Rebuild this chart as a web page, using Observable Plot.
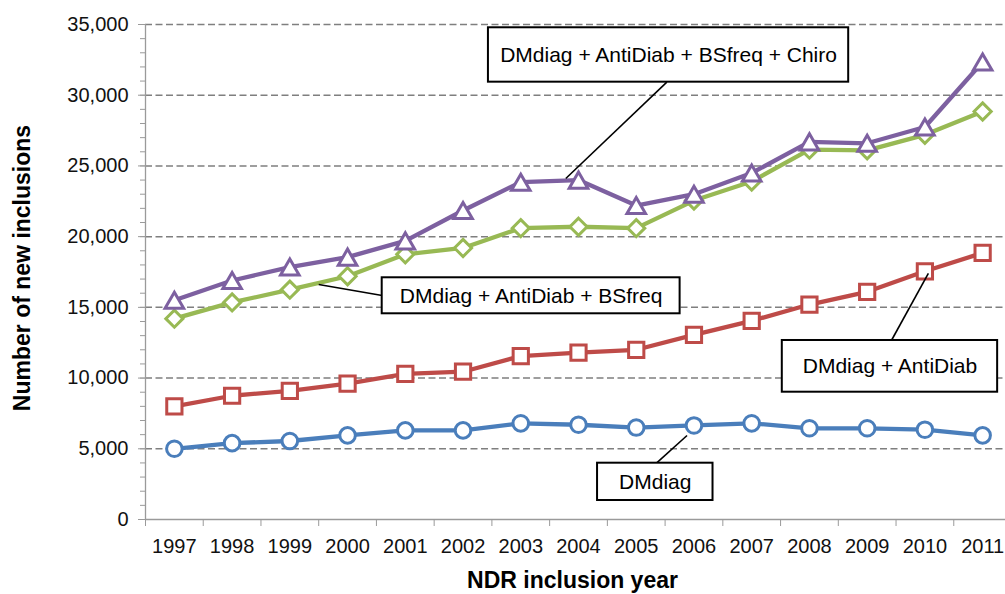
<!DOCTYPE html>
<html>
<head>
<meta charset="utf-8">
<script src="https://cdn.jsdelivr.net/npm/d3@7"></script>
<script src="https://cdn.jsdelivr.net/npm/@observablehq/plot@0.6"></script>
<style>
  html, body { margin: 0; padding: 0; background: #ffffff; }
  #chart { width: 1005px; height: 594px; overflow: hidden; }
</style>
</head>
<body>
<div id="chart"></div>
<script>
// ---- data ----
const years = [1997, 1998, 1999, 2000, 2001, 2002, 2003, 2004, 2005, 2006, 2007, 2008, 2009, 2010, 2011];
const seriesNames = ["DMdiag", "DMdiag + AntiDiab", "DMdiag + AntiDiab + BSfreq", "DMdiag + AntiDiab + BSfreq + Chiro"];
const dmdiag =        [5000, 5400, 5550, 5950, 6300, 6300, 6800, 6700, 6500, 6650, 6800, 6450, 6450, 6350, 5950];
const antidiab =      [8000, 8750, 9100, 9600, 10300, 10450, 11550, 11800, 12000, 13050, 14050, 15200, 16100, 17550, 18850];
const bsfreq =        [14200, 15350, 16250, 17200, 18750, 19200, 20600, 20700, 20600, 22550, 23900, 26150, 26100, 27200, 28850];
const chiro =         [15500, 16900, 17850, 18550, 19700, 21850, 23850, 24000, 22200, 23000, 24500, 26700, 26600, 27750, 32350];
const yTicks = [0, 5000, 10000, 15000, 20000, 25000, 30000, 35000];
const yMinorTicks = d3.range(0, 35001, 1000);

// annotation callouts (placed in data units)
const annLabels = ["DMdiag + AntiDiab + BSfreq + Chiro", "DMdiag + AntiDiab + BSfreq", "DMdiag + AntiDiab", "DMdiag"];
const annBoxX = [[2002.44, 2008.68], [2000.60, 2005.76], [2007.53, 2011.26], [2004.33, 2006.33]];
const annBoxY = [[30922, 34768], [14545, 17091], [9001, 12657], [1343, 3981]];
const annLeadFrom = [[2003.78, 24112], [1999.50, 16617], [2009.42, 12657], [2005.35, 3981]];
const annLeadTo = [[2005.53, 30922], [2000.60, 15839], [2010.06, 17395], [2005.88, 5940]];

// ---- build tables ----
const seriesValues = [dmdiag, antidiab, bsfreq, chiro];
const colors = ["#4A7EBB", "#BE4B48", "#98B954", "#7D60A0"];
const rows = seriesValues.map((vals, s) => years.map((y, i) => ({year: y, value: vals[i], series: seriesNames[s]})));
const annotations = annLabels.map((label, i) => ({
  label,
  x1: annBoxX[i][0], x2: annBoxX[i][1],
  y1: annBoxY[i][0], y2: annBoxY[i][1],
  lx1: annLeadFrom[i][0], ly1: annLeadFrom[i][1],
  lx2: annLeadTo[i][0], ly2: annLeadTo[i][1]
}));
const xDomain = [years[0] - 0.5, years[years.length - 1] + 0.5];
const boundaries = d3.range(xDomain[0], xDomain[1] + 0.01, 1);

const symbols = ["circle", "square", "diamond2", "triangle"];
const radii = [7.8, 8.6, 7.7, 6.9];
const dys = [0, 0, 0, 2.7];

const seriesMarks = rows.flatMap((data, s) => [
  Plot.line(data, {x: "year", y: "value", stroke: colors[s], strokeWidth: 4.3}),
  Plot.dot(data, {x: "year", y: "value", symbol: () => symbols[s], r: radii[s], fill: "white", stroke: colors[s], strokeWidth: 3, dy: dys[s]})
]);

const chart = Plot.plot({
  width: 1005,
  height: 594,
  marginLeft: 145,
  marginRight: 0,
  marginTop: 24,
  marginBottom: 75,
  style: {fontFamily: "'Liberation Sans', Arial, sans-serif", background: "white", overflow: "hidden"},
  x: {type: "linear", domain: xDomain, range: [145, 1011], axis: null},
  y: {domain: [0, 35000], axis: null},
  symbol: {domain: symbols, range: symbols},
  marks: [
    Plot.ruleY(yTicks.filter(v => v > 0), {stroke: "#7f7f7f", strokeWidth: 1.5, strokeDasharray: "7,3.5"}),
    Plot.ruleY([0], {stroke: "#9a9a9a", strokeWidth: 1.3}),
    Plot.ruleX([xDomain[0]], {stroke: "#9a9a9a", strokeWidth: 1.3}),
    Plot.axisY({ticks: yMinorTicks, tickSize: 5, tickFormat: () => "", stroke: "#9a9a9a", label: null}),
    Plot.axisY({ticks: yTicks, tickSize: 7, tickPadding: 10, tickFormat: d3.format(","), fontSize: 20, stroke: "#9a9a9a", fill: "#111", label: null}),
    Plot.axisX({ticks: boundaries, tickSize: 7, tickFormat: () => "", stroke: "#9a9a9a", label: null}),
    Plot.axisX({ticks: years, tickSize: 0, tickPadding: 19, tickFormat: d => String(d), fontSize: 20, fill: "#111", label: null}),
    ...seriesMarks,
    Plot.link(annotations, {x1: "lx1", y1: "ly1", x2: "lx2", y2: "ly2", stroke: "black", strokeWidth: 1.6}),
    Plot.rect(annotations, {x1: "x1", x2: "x2", y1: "y1", y2: "y2", fill: "white", stroke: "black", strokeWidth: 2}),
    Plot.text(annotations, {x: d => (d.x1 + d.x2) / 2, y: d => (d.y1 + d.y2) / 2, text: "label", fontSize: 21, fill: "black"}),
    Plot.text(["Number of new inclusions"], {frameAnchor: "left", textAnchor: "middle", lineAnchor: "middle", rotate: -90, dx: -123, dy: -4, fontSize: 23, fontWeight: "bold", fill: "black"}),
    Plot.text(["NDR inclusion year"], {frameAnchor: "bottom", textAnchor: "middle", lineAnchor: "middle", dx: -3, dy: 61, fontSize: 23, fontWeight: "bold", fill: "black"})
  ]
});
document.getElementById("chart").appendChild(chart);
</script>
</body>
</html>
